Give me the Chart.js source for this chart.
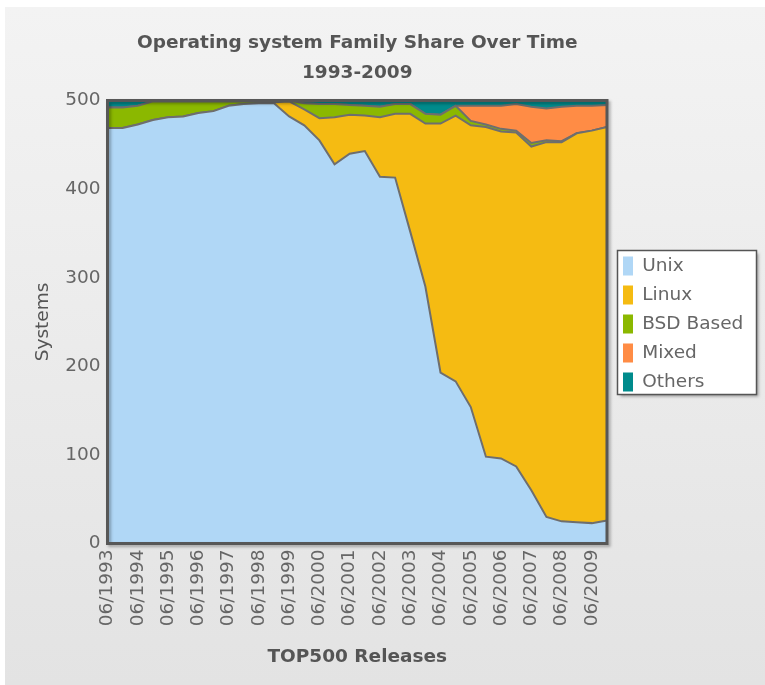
<!DOCTYPE html>
<html>
<head>
<meta charset="utf-8">
<script src="https://cdn.jsdelivr.net/npm/chart.js@4.4.1/dist/chart.umd.min.js"></script>
<style>
html,body{margin:0;padding:0;background:#fff;}
canvas{display:block;}
</style>
</head>
<body>
<canvas id="c" width="765" height="685"></canvas>
<script>
// ---------- data ----------
const releases = [
  '06/1993','11/1993','06/1994','11/1994','06/1995','11/1995','06/1996','11/1996',
  '06/1997','11/1997','06/1998','11/1998','06/1999','11/1999','06/2000','11/2000',
  '06/2001','11/2001','06/2002','11/2002','06/2003','11/2003','06/2004','11/2004',
  '06/2005','11/2005','06/2006','11/2006','06/2007','11/2007','06/2008','11/2008',
  '06/2009','11/2009'
];
const unix   = [469,469,473,478,481,482,486,488,494,496,497,497,482,472,455,428,440,443,414,413,352,290,193,183,154,98,96,87,60,30,25,24,23,26];
const linux  = [0,0,0,0,0,0,0,0,0,0,0,1,17,18,25,53,44,40,67,72,133,184,281,300,318,372,369,377,388,423,428,439,443,444];
const bsd    = [23,23,21,21,18,17,13,11,5,3,2,2,1,7,16,15,11,11,12,11,11,11,10,11,5,3,3,2,4,2,1,0,0,0];
const mixed  = [0,0,0,0,0,0,0,0,0,0,0,0,0,0,0,0,0,0,0,0,0,0,0,0,17,21,26,30,41,36,39,31,28,25];
const others = [8,8,6,1,1,1,1,1,1,1,1,0,0,3,4,4,5,6,7,4,4,15,16,6,6,6,6,4,7,9,7,6,6,5];
const seriesNames = ['Unix','Linux','BSD Based','Mixed','Others'];
const yTickValues = [0,100,200,300,400,500];
const titleLines = ['Operating system Family Share Over Time','1993-2009'];

// ---------- styles ----------
const seriesColors = ['#b0d7f6','#f5bb12','#8bb800','#ff8c45','#008b8c'];
const FONT = 'DejaVu Sans';
const seriesData = [unix, linux, bsd, mixed, others];

const bgPlugin = {
  id: 'bg',
  beforeDraw(chart) {
    const ctx = chart.ctx, W = chart.width, H = chart.height;
    ctx.save();
    ctx.fillStyle = '#ffffff';
    ctx.fillRect(0, 0, W, H);
    const g = ctx.createLinearGradient(0, 7, 0, H);
    g.addColorStop(0, '#f3f3f3');
    g.addColorStop(1, '#e3e3e3');
    ctx.fillStyle = g;
    ctx.fillRect(5, 7, W - 5, H - 7);
    // legend frame
    const ca = chart.chartArea;
    const fx = ca.right + 10.5, fw = 139;
    const cy = (ca.top + ca.bottom) / 2 + 0.5;
    const fy = cy - 72, fh = 144;
    ctx.shadowColor = 'rgba(0,0,0,0.35)';
    ctx.shadowOffsetX = 2; ctx.shadowOffsetY = 2; ctx.shadowBlur = 3;
    ctx.fillStyle = '#ffffff';
    ctx.fillRect(fx, fy, fw, fh);
    ctx.shadowColor = 'transparent';
    ctx.lineWidth = 1.5;
    ctx.strokeStyle = '#555';
    ctx.strokeRect(fx, fy, fw, fh);
    ctx.restore();
  }
};

const framePlugin = {
  id: 'frame',
  afterDatasetsDraw(chart) {
    const ctx = chart.ctx, ca = chart.chartArea;
    ctx.save();
    ctx.shadowColor = 'rgba(0,0,0,0.3)';
    ctx.shadowOffsetX = 2; ctx.shadowOffsetY = 2; ctx.shadowBlur = 3;
    ctx.lineWidth = 3;
    ctx.strokeStyle = '#575757';
    ctx.strokeRect(ca.left, ca.top, ca.right - ca.left, ca.bottom - ca.top);
    ctx.restore();
  }
};

const legendShift = {
  id: 'legendShift',
  afterLayout(chart) {
    const l = chart.legend;
    if (!l) return;
    l.left += 6; l.right += 6;
    l.top += 2; l.bottom += 2;
  }
};

new Chart(document.getElementById('c'), {
  type: 'line',
  data: {
    labels: releases,
    datasets: seriesNames.map((name, i) => ({
      label: name,
      data: seriesData[i],
      backgroundColor: seriesColors[i],
      borderColor: '#6e6e6e',
      borderWidth: 2,
      fill: i === 0 ? 'origin' : '-1',
      pointRadius: 0,
      pointHoverRadius: 0,
      tension: 0
    }))
  },
  options: {
    responsive: false,
    animation: false,
    devicePixelRatio: 1,
    layout: { padding: { top: 7, left: 0, right: 18, bottom: 0 } },
    scales: {
      x: {
        type: 'category',
        offset: false,
        stacked: true,
        grid: { display: false, drawTicks: false },
        border: { display: false },
        ticks: {
          autoSkip: false, minRotation: 90, maxRotation: 90, padding: 6,
          color: '#666', font: { family: FONT, size: 18.5 },
          callback: (v, i) => (i % 2 === 0 ? releases[i] : '')
        },
        title: {
          display: true, text: 'TOP500 Releases', color: '#555',
          font: { family: FONT, size: 18.5, weight: 'bold', lineHeight: '22px' },
          padding: { top: 0, bottom: 17 }
        },
        afterFit: (s) => { s.height = 141.5; }
      },
      y: {
        stacked: true, min: 0, max: 500,
        grid: { display: false, drawTicks: false },
        border: { display: false },
        ticks: { padding: 7, color: '#666', font: { family: FONT, size: 18.5 } },
        afterBuildTicks: (s) => { s.ticks = yTickValues.map(v => ({ value: v })); },
        title: {
          display: true, text: 'Systems', color: '#555',
          font: { family: FONT, size: 18.5, lineHeight: '22px' },
          padding: { top: 32, bottom: 0 }
        },
        afterFit: (s) => { s.width = 107.5; }
      }
    },
    plugins: {
      title: {
        display: true, fullSize: false, text: titleLines, color: '#555',
        font: { family: FONT, size: 18.5, weight: 'bold', lineHeight: '30px' },
        padding: { top: 21, bottom: 12.5 }
      },
      legend: {
        position: 'right', fullSize: false, maxWidth: 140, align: 'center',
        labels: {
          boxWidth: 10, boxHeight: 19, padding: 10, color: '#666',
          font: { family: FONT, size: 18.5 },
          generateLabels: (chart) => Chart.defaults.plugins.legend.labels.generateLabels(chart)
            .map(it => Object.assign(it, { lineWidth: 0, strokeStyle: 'rgba(0,0,0,0)' }))
        }
      },
      tooltip: { enabled: false },
      filler: { propagate: false }
    }
  },
  plugins: [bgPlugin, framePlugin, legendShift]
});
</script>
</body>
</html>
